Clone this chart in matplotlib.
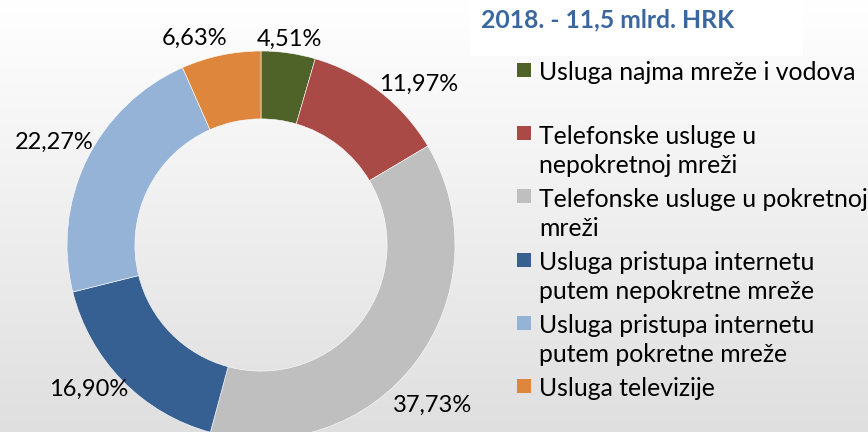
import matplotlib

matplotlib.use("Agg")
import matplotlib.pyplot as plt
import numpy as np
from matplotlib.patches import Rectangle

plt.rcParams["font.family"] = ["Lato", "DejaVu Sans"]

# podaci
categories = [
    "Usluga najma mreže i vodova",
    "Telefonske usluge u\nnepokretnoj mreži",
    "Telefonske usluge u pokretnoj\nmreži",
    "Usluga pristupa internetu\nputem nepokretne mreže",
    "Usluga pristupa internetu\nputem pokretne mreže",
    "Usluga televizije",
]
shares = [4.51, 11.97, 37.73, 16.90, 22.27, 6.63]
colors = ["#4F6228", "#AA4A47", "#BFBFBF", "#366092", "#95B3D7", "#DF863D"]
title = "2018. - 11,5 mlrd. HRK"

# raspored natpisa (kut u stupnjevima, udaljenost od sredista)
label_place = [(82, 1.07), (45.5, 1.16), (-43, 1.21), (-140, 1.16), (153.7, 1.19), (107.7, 1.12)]

W, H = 868, 432
fig = plt.figure(figsize=(W / 100, H / 100), dpi=100)

# pozadina s gradijentom
bg = fig.add_axes([0, 0, 1, 1], zorder=-10)
grad = np.linspace(1.0, 0.875, 256).reshape(-1, 1)
bg.imshow(np.dstack([grad] * 3), aspect="auto", extent=[0, 1, 0, 1], origin="upper")
bg.add_patch(Rectangle((470 / W, 1 - 56 / H), 333 / W, 56 / H, color="white", lw=0))
bg.set_xlim(0, 1)
bg.set_ylim(0, 1)
bg.axis("off")

ax = fig.add_axes([67 / W, -7 / H, 388 / W, 388 / H])
ax.pie(
    shares,
    colors=colors,
    startangle=90,
    counterclock=False,
    radius=1.0,
    wedgeprops=dict(width=0.35, edgecolor="white", linewidth=0.4),
)
for val, (ang, r) in zip(shares, label_place):
    a = np.deg2rad(ang)
    ax.text(r * np.cos(a), r * np.sin(a), f"{val:.2f}%".replace(".", ","),
            ha="center", va="center", fontsize=17, color="black", clip_on=False)
ax.set_xlim(-1, 1)
ax.set_ylim(-1, 1)
ax.set_aspect("equal")
ax.axis("off")

fig.text(481 / W, 1 - 20 / H, title, ha="left", va="center", fontsize=17.8,
         fontweight="bold", color="#3A67A0")

# legenda: svaki red zasebno, 29 px razmaka medu redovima
for i, (lab, col) in enumerate(zip(categories, colors)):
    y = 70 + i * 63.2
    fig.patches.append(Rectangle((517 / W, 1 - (y + 7) / H), 14 / W, 14 / H,
                                 transform=fig.transFigure, color=col, lw=0))
    for j, line in enumerate(lab.split("\n")):
        fig.text(539 / W, 1 - (y + 1 + j * 29) / H, line, ha="left",
                 va="center_baseline", fontsize=17.8, color="black")

fig.savefig("out.png", dpi=100)
